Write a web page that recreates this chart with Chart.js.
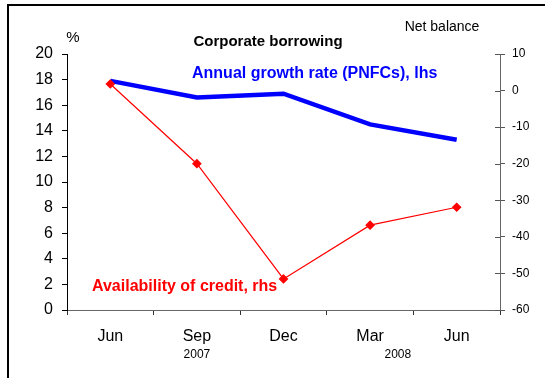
<!DOCTYPE html>
<html>
<head>
<meta charset="utf-8">
<script src="https://cdn.jsdelivr.net/npm/chart.js@4"></script>
<style>
    html, body { margin: 0; padding: 0; background: #fff; }
    #wrap { width: 545px; height: 378px; position: relative; }
</style>
</head>
<body>
<div id="wrap"><canvas id="chart" width="545" height="378"></canvas></div>
<script>
// Data
const months = ['Jun', 'Sep', 'Dec', 'Mar', 'Jun'];
const growthRate = [17.9, 16.6, 16.9, 14.5, 13.3];      // lhs, %
const creditAvailability = [1.8, -20, -51.5, -36.8, -31.9]; // rhs, net balance
const leftTicks = [0, 20, 2];     // min, max, step
const rightTicks = [-60, 10, 10];

const FONT = "'Liberation Sans', Arial, sans-serif";

// Frame, titles, labels and inward ticks on the right axis
const decorations = {
    id: 'decorations',
    afterDraw(chart) {
        const ctx = chart.ctx;
        const x = chart.scales.x;
        const r = chart.scales.y1;
        ctx.save();

        // outer frame (top and left visible)
        ctx.strokeStyle = '#000';
        ctx.lineWidth = 2;
        ctx.beginPath();
        ctx.moveTo(8, 378);
        ctx.lineTo(8, 5);
        ctx.lineTo(545, 5);
        ctx.stroke();

        // inward half of the right axis ticks
        ctx.strokeStyle = '#555';
        ctx.lineWidth = 1;
        r.ticks.forEach((t, i) => {
            const py = Math.round(r.getPixelForTick(i)) + 0.5;
            ctx.beginPath();
            ctx.moveTo(r.left, py);
            ctx.lineTo(r.left - 5, py);
            ctx.stroke();
        });

        ctx.textBaseline = 'middle';
        ctx.textAlign = 'center';
        ctx.fillStyle = '#000';
        ctx.font = `bold 15px ${FONT}`;
        ctx.fillText('Corporate borrowing', 268, 42);

        ctx.font = `15px ${FONT}`;
        ctx.fillText('%', 73, 38);
        ctx.font = `14px ${FONT}`;
        ctx.fillText('Net balance', 442, 27);

        // years under the category axis
        ctx.font = `12px ${FONT}`;
        ctx.fillText('2007', x.getPixelForValue(1), 355);
        const p3 = x.getPixelForValue(3), p4 = x.getPixelForValue(4);
        ctx.fillText('2008', p3 + (p4 - p3) * 0.32, 355);

        // series labels
        ctx.textAlign = 'left';
        ctx.font = `bold 16px ${FONT}`;
        ctx.fillStyle = '#0000ff';
        ctx.fillText('Annual growth rate (PNFCs), lhs', 192, 74);
        ctx.fillStyle = '#ff0000';
        ctx.fillText('Availability of credit, rhs', 92, 287);

        ctx.restore();
    }
};

new Chart(document.getElementById('chart'), {
    type: 'line',
    data: {
        labels: months,
        datasets: [
            {
                label: 'Annual growth rate (PNFCs), lhs',
                data: growthRate,
                yAxisID: 'y',
                borderColor: '#0000ff',
                borderWidth: 4.5,
                pointRadius: 0,
                tension: 0,
                order: 1
            },
            {
                label: 'Availability of credit, rhs',
                data: creditAvailability,
                yAxisID: 'y1',
                borderColor: '#ff0000',
                backgroundColor: '#ff0000',
                borderWidth: 1.2,
                pointStyle: 'rectRot',
                pointRadius: 4,
                tension: 0,
                order: 0
            }
        ]
    },
    options: {
        responsive: false,
        animation: false,
        layout: { padding: { top: 54, left: 0, right: 0, bottom: 0 } },
        plugins: {
            legend: { display: false },
            tooltip: { enabled: false },
            title: { display: false }
        },
        scales: {
            x: {
                offset: true,
                grid: { display: true, drawOnChartArea: false, offset: true, tickLength: 5, color: '#333' },
                border: { display: true, color: '#666', width: 1 },
                ticks: { color: '#000', font: { family: FONT, size: 16 }, padding: 12, maxRotation: 0 },
                afterFit(scale) { scale.height = 68; }
            },
            y: {
                position: 'left',
                min: leftTicks[0],
                max: leftTicks[1],
                ticks: { stepSize: leftTicks[2], color: '#000', font: { family: FONT, size: 16 }, padding: 9 },
                grid: { drawOnChartArea: false, tickLength: 5, color: '#000' },
                border: { display: true, color: '#000', width: 1 },
                afterFit(scale) { scale.width = 67; }
            },
            y1: {
                position: 'right',
                min: rightTicks[0],
                max: rightTicks[1],
                ticks: { stepSize: rightTicks[2], color: '#000', font: { family: FONT, size: 12 }, padding: 7 },
                grid: { drawOnChartArea: false, tickLength: 5, color: '#555' },
                border: { display: true, color: '#666', width: 1 },
                afterFit(scale) { scale.width = 45; }
            }
        }
    },
    plugins: [decorations]
});
</script>
</body>
</html>
